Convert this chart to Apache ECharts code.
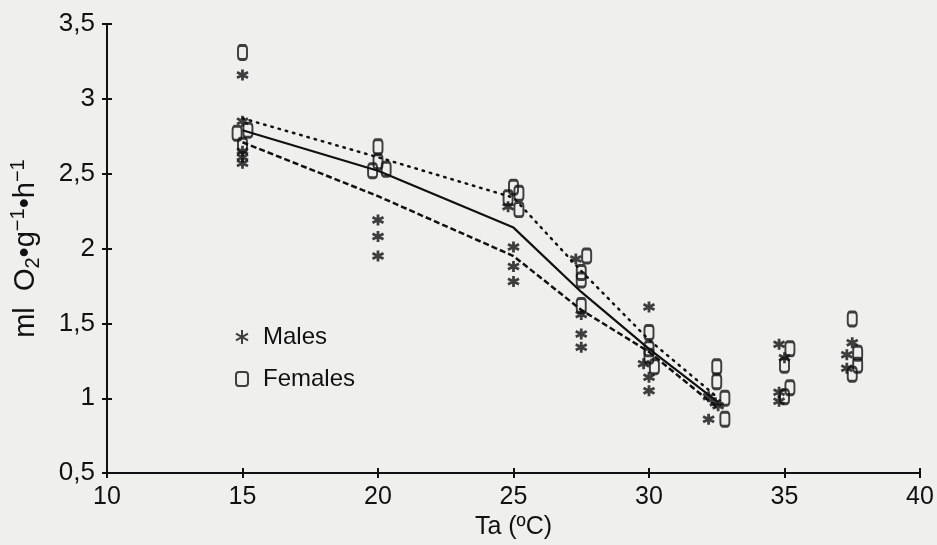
<!DOCTYPE html>
<html>
<head>
<meta charset="utf-8">
<script src="https://cdn.jsdelivr.net/npm/echarts@6/dist/echarts.min.js"></script>
<style>
  html, body { margin: 0; padding: 0; background: #efefed; }
  #chart { width: 937px; height: 545px; }
</style>
</head>
<body>
<div id="chart"></div>
<script>
  // temperatures where the mean lines have a point
  const lineTemps = [15, 20, 25, 27.5, 30, 32.5]
  const dottedMean = [2.87, 2.61, 2.34, 1.85, 1.39, 1.01]
  const solidMean = [2.79, 2.52, 2.14, 1.71, 1.33, 0.98]
  const dashedMean = [2.71, 2.35, 1.95, 1.59, 1.31, 0.94]

  // individual measurements [Ta, ml O2/g/h]
  const males = [
    [15, 3.16], [15, 2.85], [15, 2.65], [15, 2.61], [15, 2.57],
    [20, 2.19], [20, 2.08], [20, 1.95],
    [24.8, 2.28], [25, 2.01], [25, 1.88], [25, 1.78],
    [27.3, 1.93], [27.5, 1.56], [27.5, 1.43], [27.5, 1.34],
    [30, 1.61], [29.8, 1.23], [30, 1.14], [30, 1.05],
    [32.2, 1.01], [32.45, 0.97], [32.55, 0.95], [32.2, 0.86],
    [34.8, 1.36], [35, 1.27], [34.8, 1.04], [34.8, 0.98],
    [37.5, 1.37], [37.3, 1.29], [37.3, 1.20]
  ]
  const females = [
    [15, 3.31], [15.2, 2.79], [14.8, 2.77], [15, 2.69],
    [20, 2.68], [20, 2.58], [19.8, 2.52], [20.3, 2.53],
    [25, 2.41], [25.2, 2.37], [24.8, 2.34], [25.2, 2.26],
    [27.7, 1.95], [27.5, 1.84], [27.5, 1.79], [27.5, 1.62],
    [30, 1.44], [30, 1.33], [30, 1.28], [30.2, 1.21],
    [32.5, 1.21], [32.5, 1.11], [32.8, 1.0], [32.8, 0.86],
    [35.2, 1.33], [35, 1.22], [35.2, 1.07], [35, 1.01],
    [37.5, 1.53], [37.7, 1.30], [37.7, 1.22], [37.5, 1.16]
  ]

  const ink = '#111'
  const font = 'Liberation Sans'
  const asterisk = 'path://M5,0L5,10M0.7,2.5L9.3,7.5M0.7,7.5L9.3,2.5'
  const comma = v => String(v).replace('.', ',')

  const zip = (xs, ys) => xs.map((x, i) => [x, ys[i]])

  const xBase = { type: 'value', min: 10, max: 40, interval: 5, position: 'bottom', splitLine: { show: false } }
  const yBase = { type: 'value', min: 0.5, max: 3.5, interval: 0.5, position: 'left', splitLine: { show: false } }

  const chart = echarts.init(document.getElementById('chart'))
  chart.setOption({
    backgroundColor: '#efefed',
    animation: false,
    grid: { left: 104, right: 17, top: 24, bottom: 71 },
    legend: {
      data: ['Males', 'Females'],
      orient: 'vertical',
      left: 230,
      top: 320,
      itemGap: 18,
      itemWidth: 12,
      itemHeight: 14,
      textStyle: { fontFamily: font, fontSize: 24, color: ink, padding: [0, 0, 0, 10] }
    },
    xAxis: [
      Object.assign({}, xBase, {
        name: 'Ta (ºC)',
        nameLocation: 'middle',
        nameGap: 36,
        nameTextStyle: { fontFamily: font, fontSize: 25, color: ink },
        axisLine: { lineStyle: { color: ink, width: 2 } },
        axisTick: { length: 5, lineStyle: { color: ink, width: 2 } },
        axisLabel: { margin: 12, fontFamily: font, fontSize: 25, color: ink }
      }),
      // inner half of the crossing ticks
      Object.assign({}, xBase, {
        axisLine: { show: false },
        axisTick: { inside: true, length: 5, lineStyle: { color: ink, width: 2 } },
        axisLabel: { show: false }
      })
    ],
    yAxis: [
      Object.assign({}, yBase, {
        name: 'ml  O{sub|2}•g{sup|−1}•h{sup|−1}',
        nameLocation: 'middle',
        nameGap: 64,
        nameTextStyle: {
          fontFamily: font, fontSize: 29, color: ink,
          rich: {
            sub: { fontFamily: font, fontSize: 20, color: ink, padding: [15, 0, 0, 0] },
            sup: { fontFamily: font, fontSize: 20, color: ink, padding: [0, 0, 15, 0] }
          }
        },
        axisLine: { lineStyle: { color: ink, width: 2 } },
        axisTick: { length: 5, lineStyle: { color: ink, width: 2 } },
        axisLabel: { margin: 12, fontFamily: font, fontSize: 26, color: ink, formatter: comma }
      }),
      Object.assign({}, yBase, {
        axisLine: { show: false },
        axisTick: { inside: true, length: 5, lineStyle: { color: ink, width: 2 } },
        axisLabel: { show: false }
      })
    ],
    series: [
      {
        type: 'line',
        data: zip(lineTemps, dottedMean),
        symbol: 'none',
        lineStyle: { color: ink, width: 2.5, type: [1.5, 6], cap: 'round' }
      },
      {
        type: 'line',
        data: zip(lineTemps, solidMean),
        symbol: 'none',
        lineStyle: { color: ink, width: 2.2 }
      },
      {
        type: 'line',
        data: zip(lineTemps, dashedMean),
        symbol: 'none',
        lineStyle: { color: ink, width: 2.5, type: [6, 3] }
      },
      {
        name: 'Males',
        type: 'scatter',
        data: males,
        symbol: asterisk,
        symbolSize: 11,
        z: 5,
        itemStyle: { color: ink, borderColor: ink, borderWidth: 2.8 }
      },
      {
        name: 'Females',
        type: 'scatter',
        data: females,
        symbol: 'roundRect',
        symbolSize: [9, 14],
        z: 5,
        itemStyle: { color: 'rgba(0,0,0,0)', borderColor: ink, borderWidth: 2.4 }
      }
    ]
  })
</script>
</body>
</html>
